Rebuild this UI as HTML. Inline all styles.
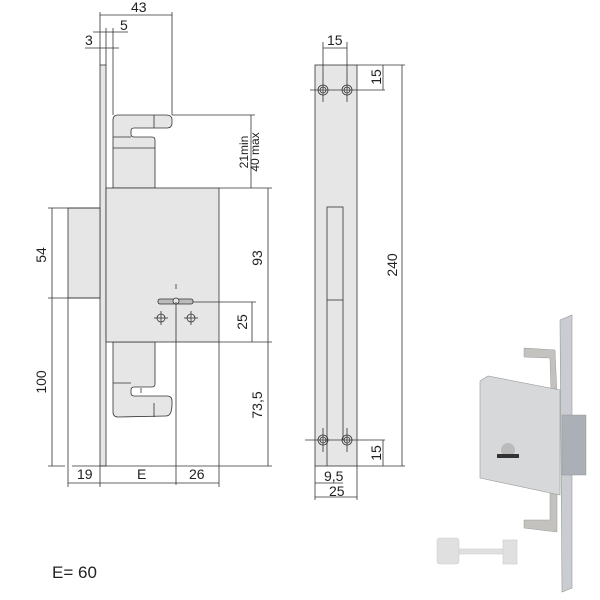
<!DOCTYPE html>
<html><head><style>
html,body{margin:0;padding:0;background:#fff;}
svg{display:block;}
text{font-family:"Liberation Sans",sans-serif;fill:#222;}
</style></head><body>
<svg width="600" height="600" viewBox="0 0 600 600" xmlns="http://www.w3.org/2000/svg">
<g stroke="#333" stroke-width="0.8" fill="none">
<line x1="100" y1="12" x2="100" y2="65"/>
<line x1="172" y1="12" x2="172" y2="115"/>
<line x1="100" y1="15" x2="172" y2="15"/>
<line x1="93" y1="32" x2="128" y2="32"/>
<line x1="106" y1="28" x2="106" y2="65"/>
<line x1="113" y1="28" x2="113" y2="115"/>
<line x1="85" y1="48" x2="119" y2="48"/>
<rect x="100" y="65" width="6" height="401" fill="#e6e6e6"/>
<path d="M113,120 q0,-5 5,-5 L166,115 q6,0 6,5 l0,3 q0,5 -5,5 L134,128 q-3,0 -3,3 l0,3 q0,3 3,3 L152,137 q3,0 3,3 L155,188 L113,188 Z" fill="#e6e6e6"/>
<line x1="154" y1="115" x2="154" y2="128"/>
<line x1="113" y1="137" x2="131" y2="137"/>
<line x1="113" y1="148" x2="155" y2="148"/>
<path d="M113,342 L155,342 L155,384 q0,3 -3,3 L134,387 q-3,0 -3,3 l0,3 q0,3 3,3 L167,396 q5,0 5,5 l0,3 q0,12 -6,12 L118,417 q-5,0 -5,-5 Z" fill="#e6e6e6"/>
<line x1="154" y1="403" x2="154" y2="417"/>
<line x1="113" y1="383" x2="131" y2="383"/>
<line x1="141" y1="388" x2="141" y2="393"/>
<rect x="106" y="188" width="113" height="154" fill="#e6e6e6"/>
<rect x="68" y="208" width="32" height="90" fill="#e6e6e6"/>
<rect x="158" y="299" width="35" height="5" rx="2" fill="#bbb"/>
<circle cx="176" cy="301" r="3" fill="#e6e6e6"/>
<line x1="176" y1="284" x2="176" y2="289"/>
<line x1="176" y1="302" x2="176" y2="485"/>
<line x1="193" y1="302" x2="256" y2="302"/>
<circle cx="161" cy="318" r="4"/><line x1="154" y1="318" x2="168" y2="318"/><line x1="161" y1="311" x2="161" y2="325"/>
<circle cx="191" cy="318" r="4"/><line x1="184" y1="318" x2="198" y2="318"/><line x1="191" y1="311" x2="191" y2="325"/>
<line x1="172" y1="115" x2="255" y2="115"/>
<line x1="251" y1="115" x2="251" y2="188"/>
<line x1="219" y1="188" x2="272" y2="188"/>
<line x1="268" y1="188" x2="268" y2="466"/>
<line x1="252" y1="302" x2="252" y2="342"/>
<line x1="219" y1="342" x2="272" y2="342"/>
<line x1="48" y1="208" x2="100" y2="208"/>
<line x1="48" y1="298" x2="100" y2="298"/>
<line x1="52" y1="208" x2="52" y2="466"/>
<line x1="48" y1="466" x2="65" y2="466"/>
<line x1="72" y1="466" x2="272" y2="466"/>
<line x1="68" y1="298" x2="68" y2="487"/>
<line x1="100" y1="466" x2="100" y2="487"/>
<line x1="219" y1="342" x2="219" y2="487"/>
<line x1="68" y1="483" x2="219" y2="483"/>
<rect x="315" y="65" width="42" height="401" fill="#e6e6e6"/>
<rect x="327" y="207" width="16" height="93"/>
<line x1="327" y1="300" x2="327" y2="466"/>
<line x1="343" y1="300" x2="343" y2="440"/>
<circle cx="323" cy="90" r="5"/><circle cx="323" cy="90" r="3"/>
<circle cx="347" cy="90" r="5"/><circle cx="347" cy="90" r="3"/>
<circle cx="323" cy="440" r="5"/><circle cx="323" cy="440" r="3"/>
<circle cx="347" cy="440" r="5"/><circle cx="347" cy="440" r="3"/>
<line x1="310" y1="90" x2="385" y2="90"/><line x1="305" y1="440" x2="385" y2="440"/>
<line x1="323" y1="42" x2="323" y2="102"/><line x1="347" y1="42" x2="347" y2="102"/>
<line x1="323" y1="428" x2="323" y2="452"/><line x1="347" y1="428" x2="347" y2="452"/>
<line x1="323" y1="48" x2="347" y2="48"/>
<line x1="357" y1="65" x2="405" y2="65"/>
<line x1="357" y1="466" x2="405" y2="466"/>
<line x1="383" y1="65" x2="383" y2="90"/>
<line x1="383" y1="440" x2="383" y2="466"/>
<line x1="402" y1="65" x2="402" y2="466"/>
<line x1="315" y1="466" x2="315" y2="500"/>
<line x1="357" y1="466" x2="357" y2="500"/>
<line x1="315" y1="483" x2="343" y2="483"/>
<line x1="315" y1="497" x2="357" y2="497"/>
</g>
<g font-size="14">
<text x="131" y="12">43</text>
<text x="120" y="30">5</text>
<text x="85" y="45">3</text>
<text x="77" y="479">19</text>
<text x="137" y="479">E</text>
<text x="189" y="479">26</text>
<text transform="translate(46,255) rotate(-90)" text-anchor="middle">54</text>
<text transform="translate(46,382) rotate(-90)" text-anchor="middle">100</text>
<text transform="translate(262,258) rotate(-90)" text-anchor="middle">93</text>
<text transform="translate(247,322) rotate(-90)" text-anchor="middle">25</text>
<text transform="translate(262,405) rotate(-90)" text-anchor="middle">73,5</text>
<text transform="translate(248,152) rotate(-90)" text-anchor="middle" font-size="12">21min</text>
<text transform="translate(259,152) rotate(-90)" text-anchor="middle" font-size="12">40 max</text>
<text x="327" y="45">15</text>
<text transform="translate(381,77) rotate(-90)" text-anchor="middle">15</text>
<text transform="translate(381,453) rotate(-90)" text-anchor="middle">15</text>
<text transform="translate(397,265) rotate(-90)" text-anchor="middle">240</text>
<text x="324" y="481">9,5</text>
<text x="329" y="496">25</text>
<text x="52" y="578" font-size="17">E= 60</text>
</g>
<g>
<polygon points="560,320 572,315 572,588 562,592" fill="#c9ccd0" stroke="#999" stroke-width="0.6"/>
<path d="M524,348 L555,350 L557,395 L551,393 L550,358 L524,357 Z" fill="#c4c2be" stroke="#999" stroke-width="0.5"/>
<path d="M550,487 L557,487 L557,532 L524,528 L524,520 L550,520 Z" fill="#c4c2be" stroke="#999" stroke-width="0.5"/>
<polygon points="480,381 488,376 560,390 560,495 480,478" fill="#d6d8da" stroke="#999" stroke-width="0.6"/>
<rect x="562" y="415" width="24" height="60" fill="#aab0b6" stroke="#999" stroke-width="0.5"/>
<circle cx="508" cy="450" r="7" fill="#bbb"/>
<rect x="497" y="454" width="22" height="4" fill="#333"/>
<g fill="#e0e0e0" stroke="#ccc" stroke-width="0.6">
<rect x="437" y="538" width="22" height="26" rx="3"/>
<rect x="459" y="549" width="45" height="5"/>
<rect x="503" y="540" width="14" height="24"/>
</g>
</g>
</svg>
</body></html>
